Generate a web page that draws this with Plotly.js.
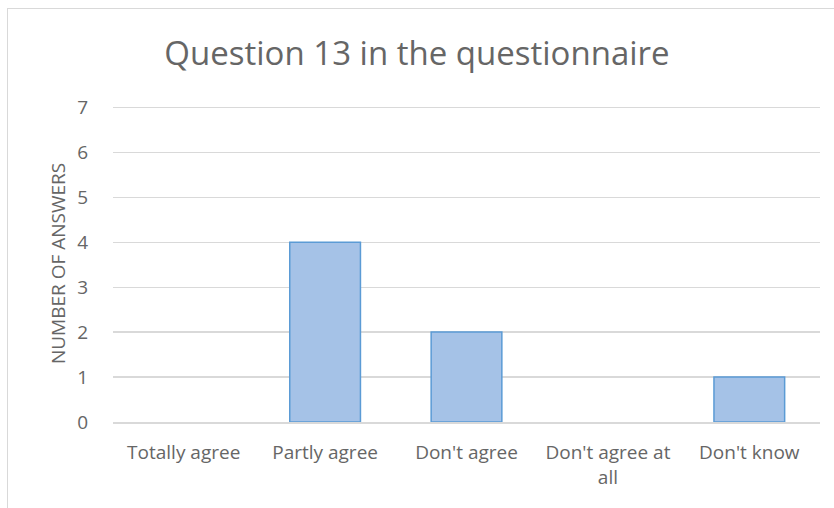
<!DOCTYPE html>
<html>
<head>
<meta charset="utf-8">
<script src="https://cdn.plot.ly/plotly-3.0.1.min.js"></script>
<style>
  html, body { margin: 0; padding: 0; background: #ffffff; }
  #wrap { position: relative; width: 834px; height: 508px; }
  #chart { width: 834px; height: 508px; }
  #frame { position: absolute; left: 7px; top: 8px; width: 827px; height: 500px;
           border-top: 1.5px solid #d9d9d9; border-left: 1.5px solid #d9d9d9;
           box-sizing: border-box; pointer-events: none; }
</style>
</head>
<body>
<div id="wrap">
  <div id="chart"></div>
  <div id="frame"></div>
</div>
<script>
const categories = ["Totally agree", "Partly agree", "Don't agree", "Don't agree at<br>all", "Don't know"];
const answers = [0, 4, 2, 0, 1];
const yTicks = [0, 1, 2, 3, 4, 5, 6, 7];

const font = "'Open Sans', sans-serif";
const textColor = "#666666";

const trace = {
  type: "bar",
  x: categories,
  y: answers,
  marker: {
    color: "#a5c2e7",
    line: { color: "#5b9bd5", width: answers.map(v => (v > 0 ? 1.5 : 0)) }
  },
  hoverinfo: "x+y"
};

const layout = {
  width: 834,
  height: 508,
  margin: { l: 113, r: 14, t: 105, b: 86 },
  paper_bgcolor: "rgba(0,0,0,0)",
  plot_bgcolor: "rgba(0,0,0,0)",
  bargap: 0.5,
  showlegend: false,
  title: {
    text: "Question 13 in the questionnaire",
    font: { family: font, size: 33, color: textColor },
    x: 0.5, xanchor: "center",
    y: 0.895, yanchor: "middle"
  },
  xaxis: {
    type: "category",
    tickfont: { family: font, size: 19, color: textColor },
    ticks: "outside", ticklen: 13, tickcolor: "rgba(0,0,0,0)",
    showline: true, linecolor: "#d9d9d9", linewidth: 1.5,
    showgrid: false, zeroline: false
  },
  yaxis: {
    range: [0, 7.05],
    tickvals: yTicks,
    tickfont: { family: font, size: 19, color: textColor },
    ticks: "outside", ticklen: 20, tickcolor: "rgba(0,0,0,0)",
    showgrid: true, gridcolor: "#d9d9d9", gridwidth: 1.2,
    zeroline: false, showline: false,
    title: {
      text: "NUMBER OF ANSWERS",
      font: { family: font, size: 19, color: textColor },
      standoff: 6
    }
  }
};

Plotly.newPlot("chart", [trace], layout, { displayModeBar: false, staticPlot: true });
</script>
</body>
</html>
